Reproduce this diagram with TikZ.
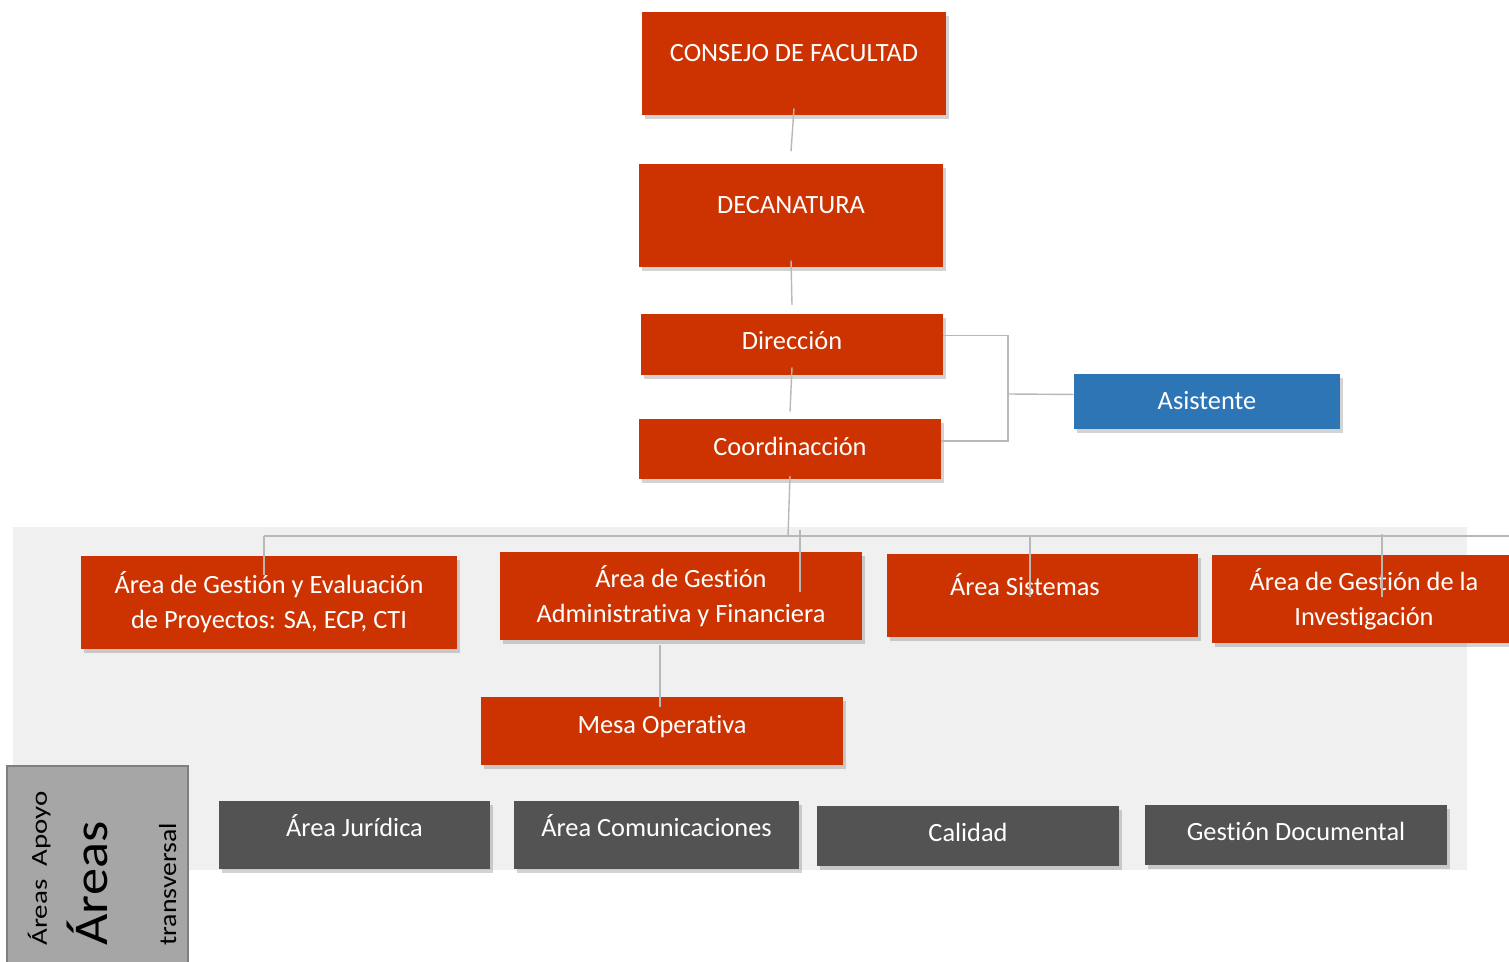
\documentclass[tikz,border=0pt]{standalone}
\usepackage{fontspec}
\setmainfont[Ligatures={NoCommon}]{Carlito}
\usetikzlibrary{shadows,calc}
\definecolor{orgred}{HTML}{CC3300}
\definecolor{asblue}{HTML}{2E75B6}
\definecolor{darkbox}{HTML}{535353}
\definecolor{panel}{HTML}{F0F0F0}
\definecolor{sidegray}{HTML}{A6A6A6}
\definecolor{sideedge}{HTML}{7F7F7F}
\definecolor{linkgray}{HTML}{B8B8B8}
\begin{document}
\begin{tikzpicture}[x=0.02cm,y=-0.02cm]
    \tikzstyle{box}=[fill=orgred, text=white, inner sep=0pt, align=center, font=\fontsize{15}{20}\selectfont, drop shadow={shadow xshift=1.5pt, shadow yshift=-2.5pt, opacity=0.35}]
    \tikzstyle{one}=[text height=12.5pt, text depth=3pt]
    \tikzstyle{dark}=[fill=darkbox]
    \tikzstyle{side}=[rotate=90, anchor=base west, inner sep=0pt]
    \tikzstyle{link}=[draw=linkgray, line width=0.8pt]

    \useasboundingbox (0,0) rectangle (1509,962);
    \fill[panel] (13,527) rectangle (1467,870);

    \node[box, one, minimum width=6.08cm, minimum height=2.06cm, text depth=14.5pt] (consejo) at (794,63.5) {CONSEJO DE FACULTAD};
    \node[box, one, minimum width=6.08cm, minimum height=2.06cm, text depth=14.5pt] (decanatura) at (791,215.5) {DECANATURA};
    \node[box, one, minimum width=6.04cm, minimum height=1.22cm, text depth=7pt] (direccion) at (792,344.5) {Dirección};
    \node[box, one, minimum width=6.04cm, minimum height=1.2cm, text depth=5pt] (coordinacion) at (790,449) {Coordinacción};
    \node[box, one, fill=asblue, minimum width=5.32cm, minimum height=1.1cm] (asistente) at (1207,401.5) {Asistente};

    \node[box, minimum width=7.52cm, minimum height=1.86cm] (evaluacion) at (269,602.5) {Área de Gestión y Evaluación\\de Proyectos: SA, ECP, CTI};
    \node[box, minimum width=7.24cm, minimum height=1.76cm] (admin) at (681,596) {Área de Gestión\\Administrativa y Financiera};
    \node[box, one, minimum width=6.22cm, minimum height=1.66cm, text depth=13pt] (sistemas) at (1042.5,595.5) {Área Sistemas\hspace*{20pt}};
    \node[box, minimum width=6.08cm, minimum height=1.76cm] (investigacion) at (1364,599) {Área de Gestión de la\\Investigación};
    \node[box, one, minimum width=7.24cm, minimum height=1.36cm, text depth=10pt] (mesa) at (662,731) {Mesa Operativa};

    \node[box, one, dark, minimum width=5.42cm, minimum height=1.36cm, text depth=11pt] (juridica) at (354.5,835) {Área Jurídica};
    \node[box, one, dark, minimum width=5.7cm, minimum height=1.36cm, text depth=11pt] (comunicaciones) at (656.5,835) {Área Comunicaciones};
    \node[box, one, dark, minimum width=6.04cm, minimum height=1.2cm, text depth=6pt] (calidad) at (968,836) {Calidad};
    \node[box, one, dark, minimum width=6.04cm, minimum height=1.2cm, text depth=6pt] (gestiondoc) at (1296,835) {Gestión Documental};

    % side label
    \node[draw=sideedge, line width=1.2pt, fill=sidegray, minimum width=3.62cm, minimum height=4.68cm, inner sep=0pt] (lateral) at (97.5,883) {};
    \node[side, xscale=1.27, font=\fontsize{13}{16}\selectfont] (apoyo) at (47,946) {Áreas\ \ Apoyo};
    \node[side, xscale=1.12, font=\fontsize{27.6}{33}\selectfont] (areas) at (107,946) {Áreas};
    \node[side, xscale=1.13, font=\fontsize{14}{17}\selectfont] (transversal) at (176,946) {transversal};

    \coordinate (bus) at (788,536);
    \coordinate (busL) at (264,536);
    \coordinate (busR) at (1509,536);
    \coordinate (junc) at (1008,394);

    \draw[link] ([yshift=4pt]consejo.south) -- ([yshift=7pt]decanatura.north);
    \draw[link] ([yshift=4pt]decanatura.south) -- ([yshift=5pt]direccion.north);
    \draw[link] ([yshift=4.5pt]direccion.south) -- ([yshift=4pt]coordinacion.north);
    \draw[link] ([yshift=5pt]direccion.east) -| (junc) |- ([yshift=4.5pt]coordinacion.east);
    \draw[link] (junc) -- ([yshift=4pt]asistente.west);

    \draw[link] ([yshift=2pt]coordinacion.south) -- (bus);
    \draw[link] (busL) -- (busR);
    \draw[link] (busL) -- ($(evaluacion.center -| busL)+(0,-27)$);
    \draw[link] ($(admin.center)+(119,-66)$) -- ($(admin.center)+(119,-4)$);
    \draw[link] ($(sistemas.center)+(-12.5,-59.5)$) -- ($(sistemas.center)+(-12.5,1.5)$);
    \draw[link] ($(investigacion.center)+(18,-65)$) -- ($(investigacion.center)+(18,-2)$);
    \draw[link] ($(admin.south)+(-21,5)$) -- ($(mesa.north)+(-2,10)$);
\end{tikzpicture}
\end{document}
